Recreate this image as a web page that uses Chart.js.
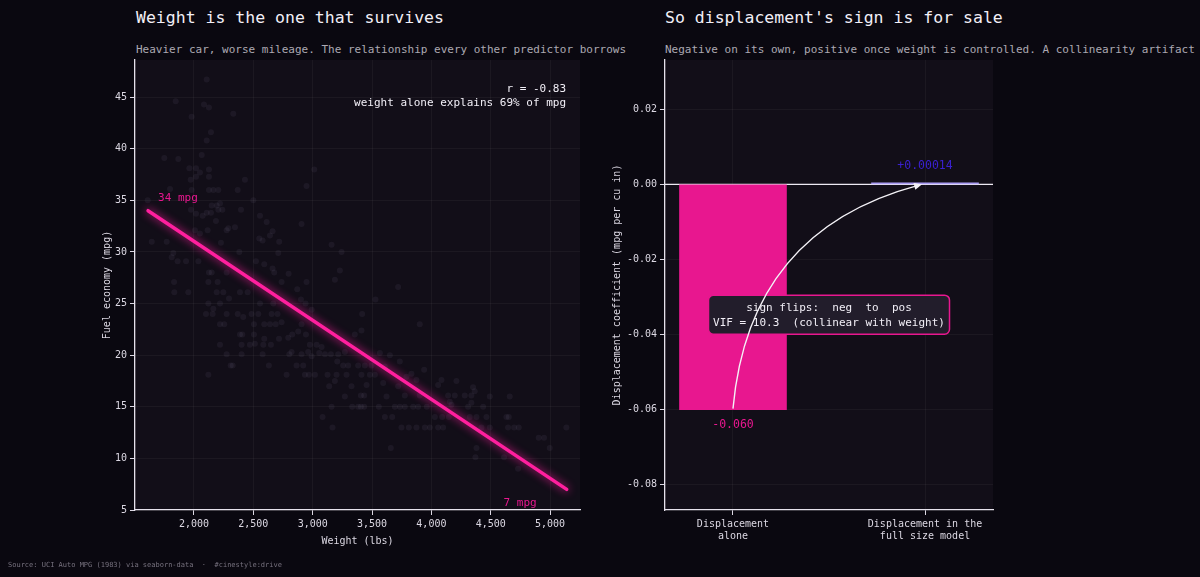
<!DOCTYPE html>
<html>
<head>
<meta charset="utf-8">
<script src="https://cdn.jsdelivr.net/npm/chart.js@4.4.1/dist/chart.umd.min.js"></script>
<style>
    body { margin: 0; background: #0a0810; width: 1200px; height: 577px; overflow: hidden; position: relative; font-family: 'DejaVu Sans Mono', monospace; }
    .title { position: absolute; top: 8px; font-size: 16.5px; line-height: 20px; color: #f2eff7; white-space: nowrap; }
    .sub { position: absolute; top: 43px; font-size: 11px; line-height: 14px; color: #aca8b2; white-space: nowrap; }
    canvas { position: absolute; top: 0; }
    .foot { position: absolute; left: 8px; top: 560px; font-size: 7px; line-height: 10px; color: #77727f; white-space: pre; }
</style>
</head>
<body>
<div class="title" style="left:136px">Weight is the one that survives</div>
<div class="sub" style="left:136px">Heavier car, worse mileage. The relationship every other predictor borrows</div>
<div class="title" style="left:665px">So displacement's sign is for sale</div>
<div class="sub" style="left:665px">Negative on its own, positive once weight is controlled. A collinearity artifact</div>
<canvas id="weightChart" width="600" height="577" style="left:0"></canvas>
<canvas id="coefChart" width="600" height="577" style="left:600px"></canvas>
<div class="foot">Source: UCI Auto MPG (1983) via seaborn-data  ·  #cinestyle:drive</div>

<script>
// Cars (weight in lbs, mpg), same order in both arrays
const carWeight = [
    2107,1846,2084,2126,2331,1980,2143,2107,2065,1750,1868,1961,2017,2126,3013,2050,2017,1972,2126,2429,
    2948,1798,1980,2126,2163,2205,2368,1610,2500,2149,2191,2219,2107,2143,2205,2239,2396,1975,2017,2073,
    2556,2185,2612,2345,2906,2289,2275,2662,2008,2050,2115,2640,2550,2578,2718,2227,1644,1770,3159,2382,
    3243,1826,2710,1862,1933,2037,1812,2522,2592,2662,2149,2126,2275,3229,2676,2797,1832,2121,2199,3187,
    2948,2738,
    2870,1834,1952,2191,2247,2387,2452,2295,2901,2219,2121,2556,2668,2940,2163,2991,2101,2157,2275,2368,
    2485,2542,2654,2704,2415,2738,2219,2255,2505,2592,2640,2688,2906,2878,2943,2387,2407,2505,2828,2794,
    2592,2716,2513,2219,2401,2471,2584,2648,2976,3033,3075,2962,2822,3271,3055,2275,2401,2578,2803,2906,
    3103,3153,3215,2991,3207,3257,3299,2309,2326,2631,2864,2920,2121,2780,2934,2968,3019,3125,3201,3285,
    3187,3139,3327,3271,3159,3333,3383,3083,3167,
    3720,3529,3417,3902,3411,3355,3566,3650,3734,3383,3439,3496,3608,3939,3832,3411,3482,3524,3790,3874,
    4085,4211,3594,3454,4057,3720,4351,4365,3406,3434,3776,3902,4141,4197,4281,4337,3622,4492,4660,4155,
    4337,4169,3406,3434,3557,3692,3734,3776,3846,3888,3961,4309,4436,3608,3670,4029,4091,4147,4323,4380,
    4464,4632,4652,3748,3810,3874,3945,3987,4057,4099,4422,4492,4646,4697,4736,5137,4904,4949,4997,4380,
    3658,4371,4612,4730
];
const carMpg = [
    46.7,44.6,44.3,44.0,43.4,43.1,41.6,40.8,39.4,39.1,39.0,38.1,38.1,38.0,38.0,37.7,37.3,37.0,37.3,37.0,
    36.4,36.1,36.0,36.0,36.0,36.0,36.0,35.0,35.0,34.5,34.5,34.7,33.8,33.8,34.1,34.1,34.1,34.1,33.7,33.5,
    33.5,33.0,32.9,32.4,32.7,32.3,32.1,32.0,32.1,31.8,32.1,31.6,31.3,31.1,31.0,30.9,31.0,31.0,30.7,30.0,
    30.0,29.9,29.9,29.1,29.1,29.1,29.5,29.1,28.8,28.4,28.0,28.0,28.0,28.2,28.0,27.9,27.1,27.1,27.1,27.3,
    27.1,27.1,
    26.4,26.1,26.1,26.1,26.1,26.1,26.1,25.5,25.4,25.0,25.0,25.0,25.0,25.0,24.5,24.4,24.0,24.0,24.0,24.0,
    24.0,24.0,24.0,24.0,23.7,23.2,23.0,23.0,23.0,23.0,23.0,23.0,23.0,22.3,22.0,22.0,22.0,22.0,22.0,21.7,
    21.6,21.6,21.1,21.0,21.0,21.0,21.0,21.0,21.0,21.0,20.8,20.3,20.3,20.3,20.2,20.1,20.1,20.1,20.1,20.1,
    20.1,20.1,20.1,19.9,19.4,19.0,19.0,19.0,19.0,19.0,19.0,19.0,18.1,18.1,18.1,18.1,18.1,18.1,18.1,18.1,
    17.5,17.0,17.0,16.0,15.0,15.0,15.0,14.0,13.0,
    26.6,25.4,24.0,23.0,22.4,22.0,20.2,20.0,19.4,19.0,19.0,19.0,18.9,18.6,18.2,18.1,18.1,18.1,17.9,17.6,
    17.6,17.5,17.3,17.1,17.1,17.0,16.9,16.5,16.1,16.1,16.1,16.1,16.1,16.1,16.1,16.1,16.0,16.0,16.0,15.5,
    15.4,15.2,15.0,15.0,15.0,15.0,15.0,15.0,15.0,15.0,15.0,15.0,15.0,14.0,14.0,14.0,14.0,14.0,14.0,14.0,
    14.0,14.0,14.0,13.0,13.0,13.0,13.0,13.0,13.0,13.0,13.0,13.0,13.0,13.0,13.0,13.0,12.0,12.0,11.0,11.0,
    11.0,10.1,10.1,9.0
];

// Fitted line ends
const fitWeight = [1613, 5140];
const fitMpg = [34.0, 7.0];

const weightTicks = [2000, 2500, 3000, 3500, 4000, 4500, 5000];
const mpgTicks = [5, 10, 15, 20, 25, 30, 35, 40, 45];

// Displacement coefficient, alone vs full model
const coefLabels = [['Displacement', 'alone'], ['Displacement in the', 'full size model']];
const coefValues = [-0.060, 0.00014];
const coefTicks = [-0.08, -0.06, -0.04, -0.02, 0, 0.02];
const coefColors = ['#e8178f', '#a99bf2'];
const coefTextColors = ['#e8178f', '#3a20cf'];

const PINK = '#ff1f9e';
const INK = '#dcd8e3';
const GRID = 'rgba(255,255,255,0.045)';

Chart.defaults.font.family = "'DejaVu Sans Mono', monospace";
Chart.defaults.font.size = 10;
Chart.defaults.color = INK;

const plotBackground = {
    id: 'plotBackground',
    beforeDraw(chart) {
        const { ctx, chartArea: a } = chart;
        ctx.save();
        ctx.fillStyle = '#120e18';
        ctx.fillRect(a.left, a.top, a.width, a.height);
        ctx.restore();
    }
};

function axisStyle(extra) {
    return Object.assign({
        border: { color: '#e6e2ec', width: 1.3 },
        grid: { color: GRID, tickColor: INK, tickLength: 5, offset: false },
        ticks: { padding: 3 }
    }, extra);
}

function fixedTicks(values) {
    return scale => { scale.ticks = values.map(v => ({ value: v })); };
}

// Glow under the fit line
const lineGlow = {
    id: 'lineGlow',
    beforeDatasetDraw(chart, args) {
        if (args.index !== 1) return;
        chart.ctx.save();
        chart.ctx.shadowColor = 'rgba(255,30,160,0.9)';
        chart.ctx.shadowBlur = 9;
    },
    afterDatasetDraw(chart, args) {
        if (args.index !== 1) return;
        chart.ctx.restore();
    }
};

const weightNotes = {
    id: 'weightNotes',
    afterDatasetsDraw(chart) {
        const { ctx, chartArea: a, scales: { x, y } } = chart;
        ctx.save();
        ctx.font = "11px 'DejaVu Sans Mono'";
        ctx.fillStyle = '#f2eff7';
        ctx.textAlign = 'right';
        ctx.textBaseline = 'middle';
        ctx.fillText('r = -0.83', a.right - 14, a.top + 29);
        ctx.fillText('weight alone explains 69% of mpg', a.right - 14, a.top + 43);

        ctx.fillStyle = '#e8178f';
        const x0 = x.getPixelForValue(fitWeight[0]);
        const y0 = y.getPixelForValue(fitMpg[0]);
        ctx.textAlign = 'left';
        ctx.fillText(Math.round(fitMpg[0]) + ' mpg', x0 + 10, y0 - 13);
        const x1 = x.getPixelForValue(fitWeight[1]);
        const y1 = y.getPixelForValue(fitMpg[1]);
        ctx.textAlign = 'right';
        ctx.fillText(Math.round(fitMpg[1]) + ' mpg', x1 - 30, y1 + 14);
        ctx.restore();
    }
};

function initWeightChart() {
    const ctx = document.getElementById('weightChart').getContext('2d');
    new Chart(ctx, {
        data: {
            datasets: [{
                type: 'scatter',
                data: carWeight.map((w, i) => ({ x: w, y: carMpg[i] })),
                backgroundColor: 'rgba(175,155,200,0.075)',
                borderWidth: 0,
                pointRadius: 3,
                order: 2
            }, {
                type: 'line',
                data: fitWeight.map((w, i) => ({ x: w, y: fitMpg[i] })),
                borderColor: PINK,
                borderWidth: 3.5,
                borderCapStyle: 'round',
                pointRadius: 0,
                order: 1
            }]
        },
        options: {
            responsive: false,
            devicePixelRatio: 1,
            animation: false,
            layout: { padding: { left: 97, top: 60, right: 20, bottom: 26 } },
            plugins: { legend: { display: false }, tooltip: { enabled: false } },
            scales: {
                x: axisStyle({
                    type: 'linear',
                    min: 1503,
                    max: 5252,
                    afterBuildTicks: fixedTicks(weightTicks),
                    ticks: { padding: 3, callback: v => v.toLocaleString('en-US') },
                    title: { display: true, text: 'Weight (lbs)', font: { size: 10 } },
                    afterFit(scale) { scale.height = 41; }
                }),
                y: axisStyle({
                    min: 5,
                    max: 48.6,
                    afterBuildTicks: fixedTicks(mpgTicks),
                    title: { display: true, text: 'Fuel economy (mpg)', font: { size: 10 } },
                    afterFit(scale) { scale.width = 38; }
                })
            }
        },
        plugins: [plotBackground, lineGlow, weightNotes]
    });
}

const coefNotes = {
    id: 'coefNotes',
    beforeDatasetsDraw(chart) {
        const { ctx, chartArea: a, scales: { y } } = chart;
        const y0 = y.getPixelForValue(0);
        ctx.save();
        ctx.strokeStyle = '#eeeaf3';
        ctx.lineWidth = 1.2;
        ctx.beginPath();
        ctx.moveTo(a.left, y0);
        ctx.lineTo(a.right, y0);
        ctx.stroke();
        ctx.restore();
    },
    afterDatasetsDraw(chart) {
        const { ctx, scales: { x, y } } = chart;
        const bars = chart.getDatasetMeta(0).data;
        ctx.save();
        ctx.font = "11.5px 'DejaVu Sans Mono'";
        ctx.textAlign = 'center';
        ctx.textBaseline = 'middle';
        coefValues.forEach((v, i) => {
            ctx.fillStyle = coefTextColors[i];
            if (v < 0) {
                ctx.fillText(v.toFixed(3), bars[i].x, y.getPixelForValue(v) + 15);
            } else {
                ctx.fillText('+' + v.toFixed(5), bars[i].x, y.getPixelForValue(v) - 18);
            }
        });

        // note box
        const cx = x.getPixelForValue(0.5);
        const cy = y.getPixelForValue(-0.0347);
        const bw = 241, bh = 39;
        ctx.beginPath();
        ctx.roundRect(cx - bw / 2, cy - bh / 2, bw, bh, 5);
        ctx.fillStyle = '#221d2b';
        ctx.fill();
        ctx.strokeStyle = '#e8178f';
        ctx.lineWidth = 1.5;
        ctx.stroke();
        ctx.fillStyle = '#f2eff7';
        ctx.font = "11px 'DejaVu Sans Mono'";
        ctx.fillText('sign flips:  neg  to  pos', cx, cy - 7);
        ctx.fillText('VIF = 10.3  (collinear with weight)', cx, cy + 8);

        // curved arrow from the alone bar to the full-model bar
        const sx = x.getPixelForValue(0), sy = y.getPixelForValue(-0.0597);
        const ex = x.getPixelForValue(0.985), ey = y.getPixelForValue(0);
        const kx = x.getPixelForValue(0.083), ky = y.getPixelForValue(-0.0123);
        ctx.strokeStyle = '#f4f2f7';
        ctx.fillStyle = '#f4f2f7';
        ctx.lineWidth = 1.4;
        ctx.beginPath();
        ctx.moveTo(sx, sy);
        ctx.quadraticCurveTo(kx, ky, ex - 4, ey + 1);
        ctx.stroke();
        const ang = Math.atan2(ey - ky, ex - kx);
        ctx.beginPath();
        ctx.moveTo(ex, ey);
        ctx.lineTo(ex - 8 * Math.cos(ang) + 3.5 * Math.sin(ang), ey - 8 * Math.sin(ang) - 3.5 * Math.cos(ang));
        ctx.lineTo(ex - 8 * Math.cos(ang) - 3.5 * Math.sin(ang), ey - 8 * Math.sin(ang) + 3.5 * Math.cos(ang));
        ctx.closePath();
        ctx.fill();
        ctx.restore();
    }
};

function initCoefChart() {
    const ctx = document.getElementById('coefChart').getContext('2d');
    new Chart(ctx, {
        type: 'bar',
        data: {
            datasets: [{
                data: coefValues.map((v, i) => ({ x: i, y: v })),
                backgroundColor: coefColors,
                borderWidth: 0,
                barThickness: 107,
                minBarLength: 1.5
            }]
        },
        options: {
            responsive: false,
            devicePixelRatio: 1,
            animation: false,
            layout: { padding: { left: 7, top: 60, right: 207, bottom: 0 } },
            plugins: { legend: { display: false }, tooltip: { enabled: false } },
            scales: {
                x: axisStyle({
                    type: 'linear',
                    min: -0.354,
                    max: 1.354,
                    offset: false,
                    afterBuildTicks: fixedTicks(coefLabels.map((c, i) => i)),
                    ticks: { padding: 3, font: { size: 10 }, callback: v => coefLabels[v] },
                    afterFit(scale) { scale.height = 67; }
                }),
                y: axisStyle({
                    min: -0.0867,
                    max: 0.0331,
                    afterBuildTicks: fixedTicks(coefTicks),
                    ticks: { padding: 3, callback: v => v.toFixed(2) },
                    title: { display: true, text: 'Displacement coefficient (mpg per cu in)', font: { size: 10 } },
                    afterFit(scale) { scale.width = 58; }
                })
            }
        },
        plugins: [plotBackground, coefNotes]
    });
}

initWeightChart();
initCoefChart();
</script>
</body>
</html>
